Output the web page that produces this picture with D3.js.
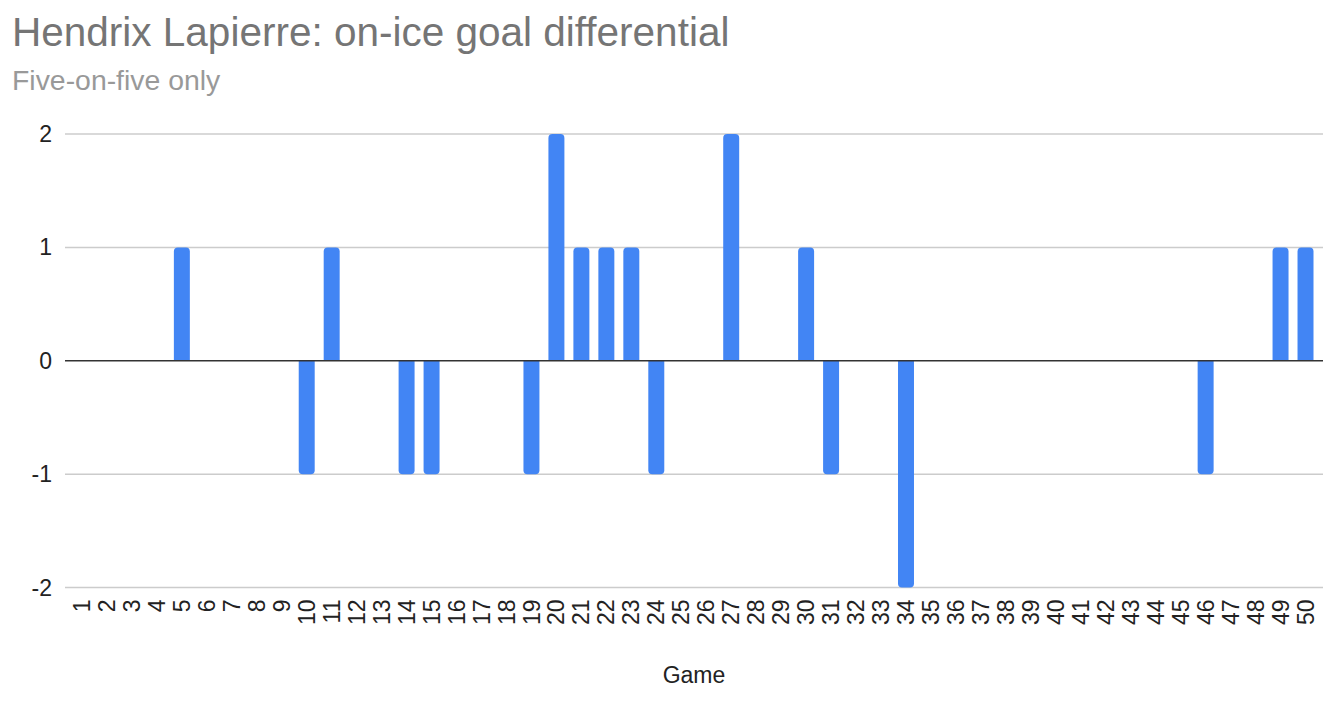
<!DOCTYPE html>
<html>
<head>
<meta charset="utf-8">
<script src="https://cdn.jsdelivr.net/npm/d3@7"></script>
<style>
  html, body { margin: 0; padding: 0; background: #fff; }
  svg { display: block; font-family: Arial, "Liberation Sans", sans-serif; }
</style>
</head>
<body>
<div id="chart"></div>
<script>
// chart data
const games = d3.range(1, 51);
const diffGames = [5, 10, 11, 14, 15, 19, 20, 21, 22, 23, 24, 27, 30, 31, 34, 46, 49, 50];
const diffValues = [1, -1, 1, -1, -1, -1, 2, 1, 1, 1, -1, 2, 1, -1, -2, -1, 1, 1];
const yTicks = [-2, -1, 0, 1, 2];

const data = games.map(g => {
  const i = diffGames.indexOf(g);
  return { game: g, value: i >= 0 ? diffValues[i] : 0 };
});

const width = 1342;
const height = 704;

const svg = d3.select('#chart')
  .append('svg')
  .attr('width', width)
  .attr('height', height);

// title
svg.append('text')
  .attr('x', 12)
  .attr('y', 46)
  .attr('fill', '#757575')
  .style('font-size', '40.5px')
  .text('Hendrix Lapierre: on-ice goal differential');

svg.append('text')
  .attr('x', 12)
  .attr('y', 90)
  .attr('fill', '#999999')
  .style('font-size', '28.4px')
  .text('Five-on-five only');

// scales
const x = d3.scaleBand()
  .domain(games)
  .range([69.5, 1318])
  .paddingInner(0.36)
  .paddingOuter(0.18);

const y = d3.scaleLinear()
  .domain([-2, 2])
  .range([587.5, 134]);

// gridlines
svg.append('g')
  .selectAll('line')
  .data(yTicks.filter(d => d !== 0))
  .join('line')
  .attr('x1', 65)
  .attr('x2', 1323)
  .attr('y1', d => y(d))
  .attr('y2', d => y(d))
  .attr('stroke', '#cccccc')
  .attr('stroke-width', 1.5);

// y axis labels
svg.append('g')
  .selectAll('text')
  .data(yTicks)
  .join('text')
  .attr('x', 52)
  .attr('y', d => y(d))
  .attr('dy', '0.35em')
  .attr('text-anchor', 'end')
  .attr('fill', '#222')
  .style('font-size', '23px')
  .text(d => d);

// bars (rounded at the value end)
const r = 4;
const barPath = d => {
  const x0 = x(d.game), w = x.bandwidth();
  const y0 = y(0), y1 = y(d.value);
  if (d.value > 0) {
    return `M${x0},${y0}V${y1 + r}Q${x0},${y1} ${x0 + r},${y1}H${x0 + w - r}Q${x0 + w},${y1} ${x0 + w},${y1 + r}V${y0}Z`;
  }
  return `M${x0},${y0}V${y1 - r}Q${x0},${y1} ${x0 + r},${y1}H${x0 + w - r}Q${x0 + w},${y1} ${x0 + w},${y1 - r}V${y0}Z`;
};

svg.append('g')
  .selectAll('path')
  .data(data.filter(d => d.value !== 0))
  .join('path')
  .attr('d', barPath)
  .attr('fill', '#4285F4');

// zero line
svg.append('line')
  .attr('x1', 65)
  .attr('x2', 1323)
  .attr('y1', y(0))
  .attr('y2', y(0))
  .attr('stroke', '#333333')
  .attr('stroke-width', 1.5);

// x axis labels
const xAxis = svg.append('g')
  .attr('transform', `translate(0, ${y(-2) + 12})`)
  .call(d3.axisBottom(x).tickSize(0).tickPadding(0));

xAxis.select('.domain').remove();
xAxis.selectAll('text')
  .attr('transform', 'rotate(-90)')
  .attr('text-anchor', 'end')
  .attr('x', 0)
  .attr('y', 0)
  .attr('dx', 0)
  .attr('dy', '0.35em')
  .attr('fill', '#222')
  .style('font-size', '23px')
  .style('font-family', 'Arial, "Liberation Sans", sans-serif');

// x axis title
svg.append('text')
  .attr('x', 694)
  .attr('y', 683)
  .attr('text-anchor', 'middle')
  .attr('fill', '#222')
  .style('font-size', '23px')
  .text('Game');
</script>
</body>
</html>
